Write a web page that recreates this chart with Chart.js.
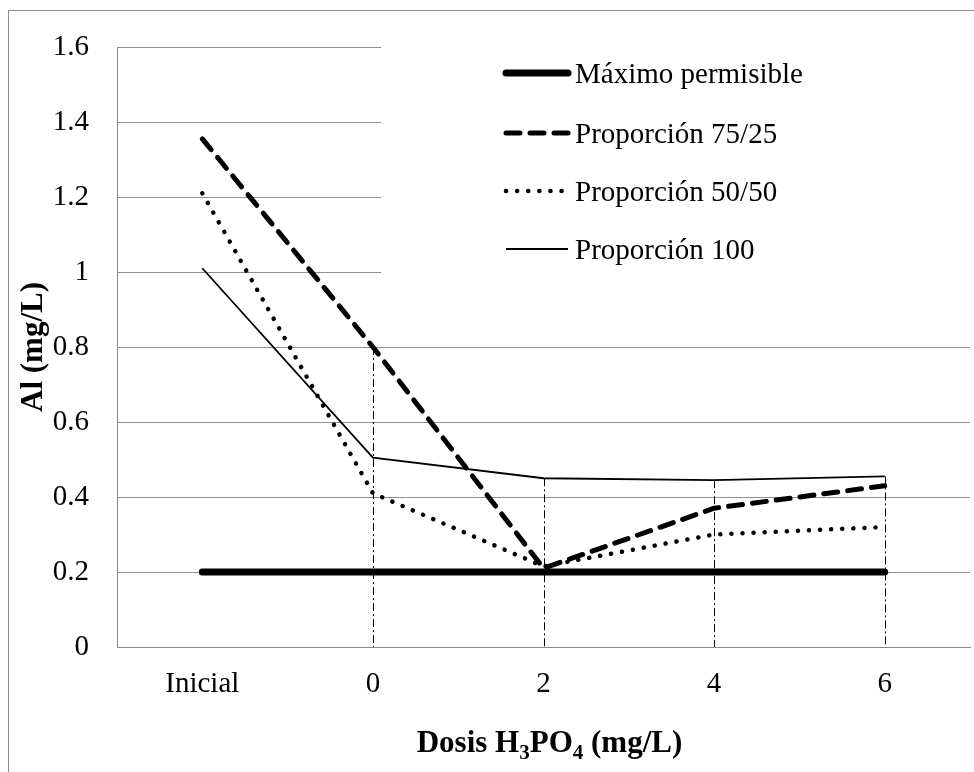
<!DOCTYPE html>
<html>
<head>
<meta charset="utf-8">
<title>Al (mg/L)</title>
<script src="https://cdn.jsdelivr.net/npm/chart.js@4.4.0/dist/chart.umd.min.js"></script>
<style>
    html, body { margin: 0; padding: 0; background: #fff; overflow: hidden; }
    #wrap { position: relative; width: 974px; height: 772px; overflow: hidden; }
    #frame { position: absolute; left: 8px; top: 10px; width: 1000px; height: 800px; border: 1px solid #8a8a8a; }
    #chart { position: absolute; left: 0; top: 0; }
</style>
</head>
<body>
<div id="wrap">
    <div id="frame"></div>
    <canvas id="chart" width="974" height="772"></canvas>
</div>
<script>
// Data
const categories = ['Inicial', '0', '2', '4', '6'];
const maximoPermisible = [0.2, 0.2, 0.2, 0.2, 0.2];
const proporcion7525 = [1.355, 0.80, 0.21, 0.37, 0.43];
const proporcion5050 = [1.21, 0.41, 0.215, 0.30, 0.32];
const proporcion100 = [1.01, 0.505, 0.45, 0.445, 0.455];
const yTicks = [0, 0.2, 0.4, 0.6, 0.8, 1, 1.2, 1.4, 1.6];
const seriesLabels = ['Máximo permisible', 'Proporción 75/25', 'Proporción 50/50', 'Proporción 100'];
const yTitle = 'Al (mg/L)';
// x title pieces, sub = subscript
const xTitleParts = [
    { t: 'Dosis H', sub: false },
    { t: '3', sub: true },
    { t: 'PO', sub: false },
    { t: '4', sub: true },
    { t: ' (mg/L)', sub: false }
];
// categories that get a drop line (all but the first)
const dropLineFrom = 1;

const FONT = '"Liberation Serif", "Times New Roman", serif';

// Drop lines, white legend box, x title with subscripts
const extras = {
    id: 'extras',
    beforeDatasetsDraw: function(chart) {
        const ctx = chart.ctx;
        const x = chart.scales.x;
        const y = chart.scales.y;
        const area = chart.chartArea;

        // legend box hides the grid behind it
        ctx.save();
        ctx.fillStyle = '#fff';
        ctx.fillRect(area.left + 264, area.top - 8, area.right - area.left - 262, 250);
        ctx.restore();

        // dash-dot drop lines from the highest series to the axis
        ctx.save();
        ctx.strokeStyle = '#000';
        ctx.lineWidth = 1;
        ctx.setLineDash([8, 3, 2, 3]);
        for (let i = dropLineFrom; i < categories.length; i++) {
            const top = Math.max(...chart.data.datasets.map(d => d.data[i]));
            const px = Math.round(x.getPixelForValue(i)) + 0.5;
            ctx.beginPath();
            ctx.moveTo(px, y.getPixelForValue(top));
            ctx.lineTo(px, y.getPixelForValue(0));
            ctx.stroke();
        }
        ctx.restore();
    },
    afterDraw: function(chart) {
        const ctx = chart.ctx;
        const area = chart.chartArea;

        // legend
        const lx0 = 506, lx1 = 568, tx = 575;
        const rowY = [73, 133, 191, 249];
        ctx.save();
        chart.data.datasets.forEach(function(ds, i) {
            ctx.strokeStyle = ds.borderColor;
            ctx.lineWidth = ds.borderWidth;
            ctx.lineCap = ds.borderCapStyle || 'butt';
            ctx.setLineDash(ds.borderDash || []);
            ctx.beginPath();
            ctx.moveTo(lx0, rowY[i]);
            ctx.lineTo(lx1, rowY[i]);
            ctx.stroke();
            ctx.setLineDash([]);
            ctx.fillStyle = '#000';
            ctx.font = '29px ' + FONT;
            ctx.textBaseline = 'alphabetic';
            ctx.textAlign = 'left';
            ctx.fillText(ds.label, tx, rowY[i] + 10);
        });
        ctx.restore();

        // x axis title
        ctx.save();
        ctx.fillStyle = '#000';
        ctx.textBaseline = 'alphabetic';
        ctx.textAlign = 'left';
        const big = 'bold 31px ' + FONT;
        const small = 'bold 21px ' + FONT;
        let total = 0;
        xTitleParts.forEach(function(p) {
            ctx.font = p.sub ? small : big;
            total += ctx.measureText(p.t).width;
        });
        let cx = (area.left + area.right) / 2 + 6 - total / 2;
        const base = 752;
        xTitleParts.forEach(function(p) {
            ctx.font = p.sub ? small : big;
            ctx.fillText(p.t, cx, p.sub ? base + 7 : base);
            cx += ctx.measureText(p.t).width;
        });
        ctx.restore();
    }
};

const ctx = document.getElementById('chart').getContext('2d');
const chart = new Chart(ctx, {
    type: 'line',
    data: {
        labels: categories,
        datasets: [
            {
                label: seriesLabels[0],
                data: maximoPermisible,
                borderColor: '#000',
                borderWidth: 7,
                borderCapStyle: 'round'
            },
            {
                label: seriesLabels[1],
                data: proporcion7525,
                borderColor: '#000',
                borderWidth: 5,
                borderDash: [14, 10],
                borderCapStyle: 'round'
            },
            {
                label: seriesLabels[2],
                data: proporcion5050,
                borderColor: '#000',
                borderWidth: 4.5,
                borderDash: [0.1, 11],
                borderCapStyle: 'round'
            },
            {
                label: seriesLabels[3],
                data: proporcion100,
                borderColor: '#000',
                borderWidth: 1.8
            }
        ]
    },
    options: {
        responsive: false,
        animation: false,
        events: [],
        layout: {
            padding: { top: 47, right: 4, left: 0, bottom: 0 }
        },
        elements: {
            point: { radius: 0 },
            line: { tension: 0, fill: false }
        },
        plugins: {
            legend: { display: false },
            tooltip: { enabled: false }
        },
        scales: {
            x: {
                type: 'category',
                offset: true,
                grid: { display: false, drawTicks: false },
                border: { display: true, color: '#8a8a8a', width: 1 },
                ticks: {
                    color: '#000',
                    padding: 20,
                    font: { family: FONT, size: 29 }
                },
                afterFit: function(scale) { scale.height = 125; }
            },
            y: {
                min: yTicks[0],
                max: yTicks[yTicks.length - 1],
                grid: { color: '#8f8f8f', lineWidth: 1, drawTicks: false },
                border: { display: true, color: '#8a8a8a', width: 1 },
                ticks: {
                    stepSize: yTicks[1] - yTicks[0],
                    color: '#000',
                    padding: 28,
                    font: { family: FONT, size: 29 },
                    callback: function(v) { return String(Math.round(v * 10) / 10); }
                },
                title: {
                    display: true,
                    text: yTitle,
                    color: '#000',
                    padding: { top: 15, bottom: 0 },
                    font: { family: FONT, size: 31, weight: 'bold' }
                },
                afterFit: function(scale) { scale.width = 117; }
            }
        }
    },
    plugins: [extras]
});
</script>
</body>
</html>
